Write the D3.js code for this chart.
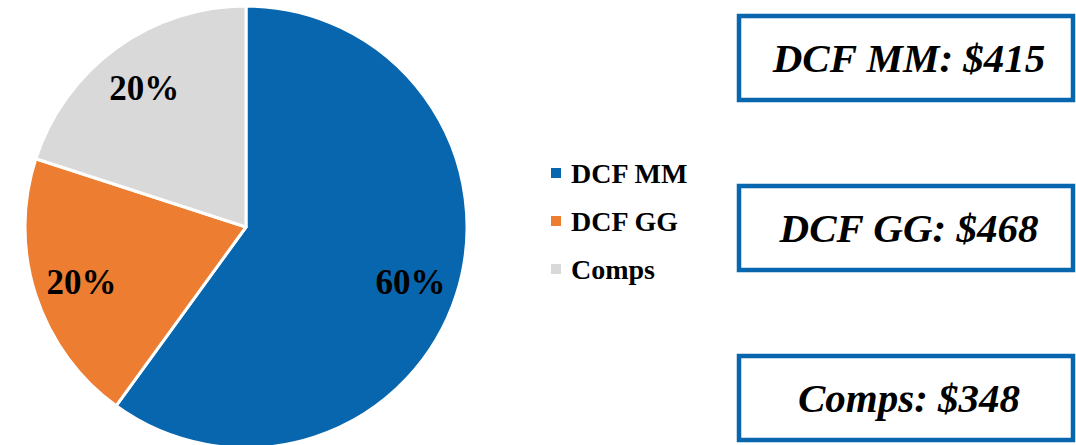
<!DOCTYPE html>
<html>
<head>
<meta charset="utf-8">
<script src="https://cdn.jsdelivr.net/npm/d3@7"></script>
<style>
  body { margin: 0; background: #fff; }
  text { font-family: "Liberation Serif", "DejaVu Serif", serif; }
</style>
</head>
<body>
<div class="chart"></div>
<script>
// Valuation weighting pie + price boxes

var svgWidth = 1076;
var svgHeight = 445;

// Data
var methods = ["DCF MM", "DCF GG", "Comps"];
var weights = [60, 20, 20];
var prices = [415, 468, 348];
var colors = ["#0766ae", "#ed7d31", "#d9d9d9"];

var svg = d3.select(".chart")
  .append("svg")
  .attr("width", svgWidth)
  .attr("height", svgHeight);

// Pie
var cx = 246, cy = 227, radius = 221;

var pie = d3.pie().sort(null).value(d => d.w);
var data = methods.map((m, i) => ({ name: m, w: weights[i], color: colors[i] }));

var arc = d3.arc().innerRadius(0).outerRadius(radius);
var labelArc = d3.arc().innerRadius(173).outerRadius(173);

var pieGroup = svg.append("g")
  .attr("transform", `translate(${cx}, ${cy})`);

var slices = pieGroup.selectAll(null)
  .data(pie(data))
  .enter()
  .append("g");

slices.append("path")
  .attr("d", arc)
  .attr("fill", d => d.data.color)
  .attr("stroke", "#fff")
  .attr("stroke-width", 3)
  .attr("stroke-linejoin", "round");

slices.append("text")
  .attr("transform", d => `translate(${labelArc.centroid(d)})`)
  .attr("text-anchor", "middle")
  .attr("dy", "0.38em")
  .attr("font-size", 35)
  .attr("font-weight", "bold")
  .attr("fill", "#000")
  .text(d => d.data.w + "%");

// Legend
var legendY = d3.scalePoint()
  .domain(methods)
  .range([173, 269]);

var legend = svg.append("g")
  .selectAll(null)
  .data(data)
  .enter()
  .append("g")
  .attr("transform", d => `translate(551, ${legendY(d.name)})`);

legend.append("rect")
  .attr("x", 0)
  .attr("y", -5)
  .attr("width", 10)
  .attr("height", 10)
  .attr("fill", d => d.color);

legend.append("text")
  .attr("x", 20)
  .attr("dy", "0.35em")
  .attr("font-size", 28)
  .attr("font-weight", "bold")
  .text(d => d.name);

// Price boxes
var boxY = d3.scalePoint()
  .domain(methods)
  .range([16, 356]);

var boxes = svg.append("g")
  .selectAll(null)
  .data(methods)
  .enter()
  .append("g")
  .attr("transform", (d, i) => `translate(739, ${boxY(d)})`);

boxes.append("rect")
  .attr("width", 334)
  .attr("height", 84)
  .attr("fill", "#fff")
  .attr("stroke", "#0766ae")
  .attr("stroke-width", 4.5);

boxes.append("text")
  .attr("x", 170)
  .attr("y", 42)
  .attr("dy", "0.35em")
  .attr("text-anchor", "middle")
  .attr("font-size", 41)
  .attr("font-weight", "bold")
  .attr("font-style", "italic")
  .text((d, i) => `${d}: $${prices[i]}`);
</script>
</body>
</html>
